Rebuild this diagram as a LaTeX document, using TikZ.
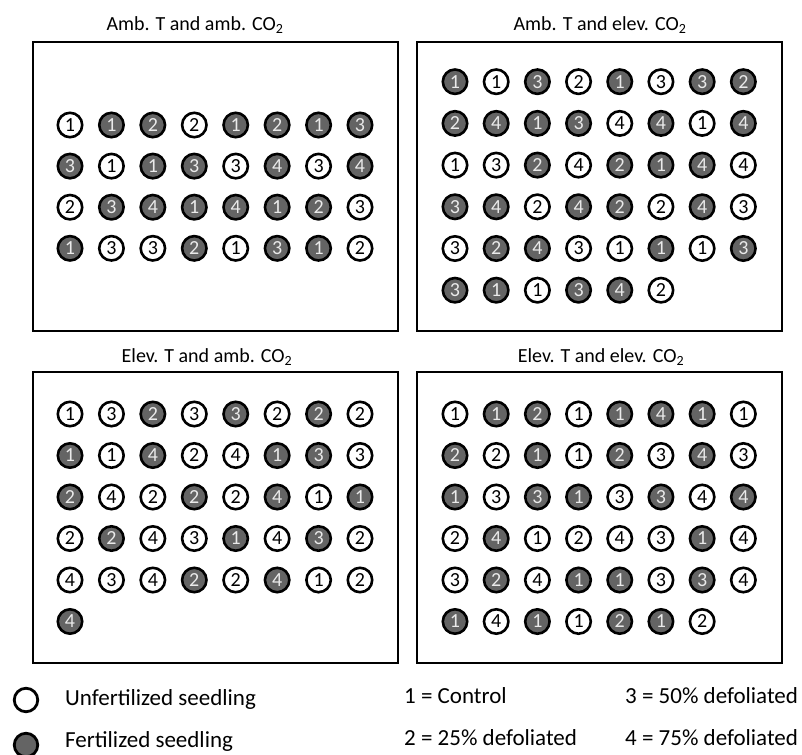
\documentclass[tikz,border=0pt]{standalone}
\usepackage{fontspec}
\setmainfont{Carlito}
\definecolor{seedgray}{HTML}{646464}
\definecolor{seedtext}{HTML}{EAEAEA}
\tikzset{
  seedbase/.style={circle, line width=2.6pt, draw=black, minimum size=24.4pt, inner sep=0pt,
    font=\fontsize{20}{20}\selectfont},
  seedu/.style={seedbase, fill=white, text=black},
  seedf/.style={seedbase, fill=seedgray, text=seedtext},
  panelbox/.style={draw=black, line width=2.5pt, inner sep=0pt},
  paneltitle/.style={font=\fontsize{20}{24}\selectfont, inner sep=0pt},
  legendtext/.style={font=\fontsize{23}{27}\selectfont, anchor=west, inner sep=0pt,
    text height=16pt, text depth=5pt},
  legcircle/.style={circle, line width=2.8pt, draw=black, minimum size=23.5pt, inner sep=0pt}
}
\newcommand\seedrow[6]{%
  \foreach [count=\c] \n/\t in {#6} {%
    \if f\t
      \node[seedf] (#1-#2-\c) at ({#3+(\c-1)*#4},#5) {\n};
    \else
      \node[seedu] (#1-#2-\c) at ({#3+(\c-1)*#4},#5) {\n};
    \fi
  }}
\begin{document}
\begin{tikzpicture}[x=1pt,y=-1pt]
\fill[white] (0,0) rectangle (802,754);
\useasboundingbox (0,0) rectangle (802,754);

% panel boxes
\node[panelbox, minimum width=365pt, minimum height=289pt] (boxA) at (215.5,186.5) {};
\node[panelbox, minimum width=365pt, minimum height=289pt] (boxB) at (599.5,186.5) {};
\node[panelbox, minimum width=365pt, minimum height=291pt] (boxC) at (215.5,517.5) {};
\node[panelbox, minimum width=365pt, minimum height=291pt] (boxD) at (599.5,517.5) {};

% titles
\node[paneltitle] (tA) at (195,25) {Amb. T and amb. CO\textsubscript{2}};
\node[paneltitle] (tB) at (600,25) {Amb. T and elev. CO\textsubscript{2}};
\node[paneltitle] (tC) at (207,357) {Elev. T and amb. CO\textsubscript{2}};
\node[paneltitle] (tD) at (601,357) {Elev. T and elev. CO\textsubscript{2}};

% panel A
\seedrow{A}{1}{70}{41.43}{125.0}{1/u,1/f,2/f,2/u,1/f,2/f,1/f,3/f}
\seedrow{A}{2}{70}{41.43}{166.1}{3/f,1/u,1/f,3/f,3/u,4/f,3/u,4/f}
\seedrow{A}{3}{70}{41.43}{207.2}{2/u,3/f,4/f,1/f,4/f,1/f,2/f,3/u}
\seedrow{A}{4}{70}{41.43}{248.3}{1/f,3/u,3/u,2/f,1/u,3/f,1/f,2/u}

% panel B
\seedrow{B}{1}{455}{41.19}{81.7}{1/f,1/u,3/f,2/u,1/f,3/u,3/f,2/f}
\seedrow{B}{2}{455}{41.19}{123.4}{2/f,4/f,1/f,3/f,4/u,4/f,1/u,4/f}
\seedrow{B}{3}{455}{41.19}{165.1}{1/u,3/u,2/f,4/u,2/f,1/f,4/f,4/u}
\seedrow{B}{4}{455}{41.19}{206.8}{3/f,4/f,2/u,4/f,2/f,2/u,4/f,3/u}
\seedrow{B}{5}{455}{41.19}{248.5}{3/u,2/f,4/f,3/u,1/u,1/f,1/u,3/f}
\seedrow{B}{6}{455}{41.19}{290.2}{3/f,1/f,1/u,3/f,4/f,2/u}

% panel C
\seedrow{C}{1}{70}{41.43}{414.0}{1/u,3/u,2/f,3/u,3/f,2/u,2/f,2/u}
\seedrow{C}{2}{70}{41.43}{455.5}{1/f,1/u,4/f,2/u,4/u,1/f,3/f,3/u}
\seedrow{C}{3}{70}{41.43}{497.0}{2/f,4/u,2/u,2/f,2/u,4/f,1/u,1/f}
\seedrow{C}{4}{70}{41.43}{538.5}{2/u,2/f,4/u,3/u,1/f,4/u,3/f,2/u}
\seedrow{C}{5}{70}{41.43}{580.0}{4/u,3/u,4/u,2/f,2/u,4/f,1/u,2/u}
\seedrow{C}{6}{70}{41.43}{621.5}{4/f}

% panel D
\seedrow{D}{1}{455}{41.19}{414.0}{1/u,1/f,2/f,1/u,1/f,4/f,1/f,1/u}
\seedrow{D}{2}{455}{41.19}{455.5}{2/f,2/u,1/f,1/u,2/f,3/u,4/f,3/u}
\seedrow{D}{3}{455}{41.19}{497.0}{1/f,3/u,3/f,1/f,3/u,3/f,4/u,4/f}
\seedrow{D}{4}{455}{41.19}{538.5}{2/u,4/f,1/u,2/u,4/u,3/u,1/f,4/u}
\seedrow{D}{5}{455}{41.19}{580.0}{3/u,2/f,4/u,1/f,1/f,3/u,3/f,4/u}
\seedrow{D}{6}{455}{41.19}{621.5}{1/f,4/u,1/f,1/u,2/f,1/f,2/u}

% legend
\node[legcircle, fill=white] (legU) at (26,700) {};
\node[legcircle, fill=seedgray] (legF) at (26,745) {};
\node[legendtext] (legUt) at (65,700) {Unfertilized seedling};
\node[legendtext] (legFt) at (65,741.5) {Fertilized seedling};
\node[legendtext] (key1) at (404,698) {1 = Control};
\node[legendtext] (key2) at (404,740) {2 = 25\% defoliated};
\node[legendtext] (key3) at (625,698) {3 = 50\% defoliated};
\node[legendtext] (key4) at (625,740) {4 = 75\% defoliated};
\end{tikzpicture}
\end{document}
